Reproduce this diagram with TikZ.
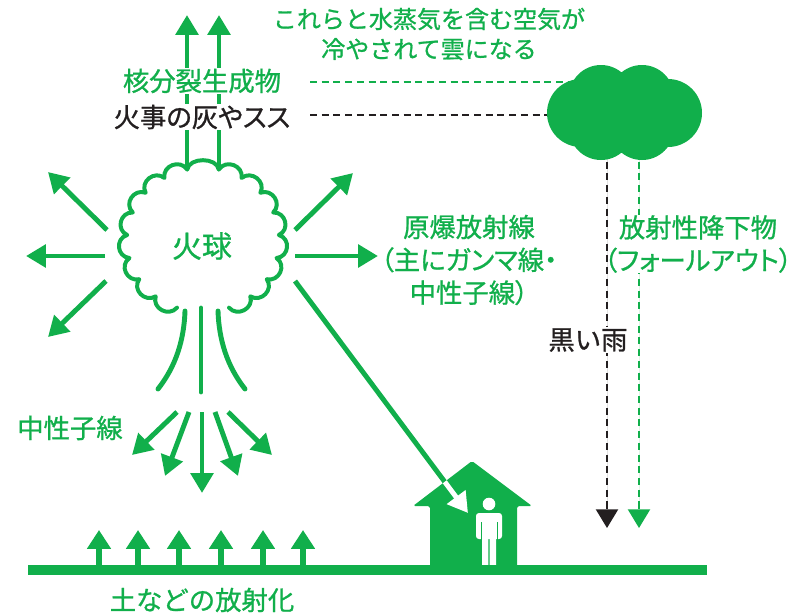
\documentclass[tikz,border=0pt]{standalone}
\usepackage{fontspec}
\newfontfamily\jp[FakeBold=0.9]{Noto Sans CJK JP}
\newfontfamily\jpp[FakeBold=0.9,RawFeature=+palt]{Noto Sans CJK JP}
\usetikzlibrary{arrows.meta,positioning}
\definecolor{BombGreen}{HTML}{11AF4B}
\definecolor{SootBlack}{HTML}{231F20}

\begin{document}
\begin{tikzpicture}[
  x=0.3mm, y=-0.3mm,
  word/.style={font=\jp\fontsize{22.5}{28}\selectfont,text=BombGreen,align=center,
               fill=white,inner sep=1pt},
  tightword/.style={word,font=\jpp\fontsize{22.5}{28}\selectfont},
  inkword/.style={word,text=SootBlack},
  ray/.style={draw=BombGreen,line width=4.2pt,-{Triangle[length=17pt,width=19pt]}},
  lift/.style={draw=BombGreen,line width=5pt,-{Triangle[length=16pt,width=19.5pt]}},
  stream/.style={draw=BombGreen,line width=4.2pt,line cap=round},
  fireedge/.style={draw=BombGreen,line width=3.4pt,line cap=round,line join=round},
  haze/.style={line width=1.3pt,dash pattern=on 6pt off 4pt},
  rain/.style={haze,-{Triangle[length=16pt,width=19pt]}}
]
  \useasboundingbox (0,0) rectangle (803,613);

  % fireball outline, open at the bottom
  \draw[fireedge] ({203+76*cos(110)},{240+72*sin(110)})
    foreach \a/\b in {110/128.5,128.5/147,147/165.5,165.5/184,184/202.5,202.5/221,
                      221/239.5,239.5/258,258/282,282/300.5,300.5/319,319/337.5,
                      337.5/356,356/374.5,374.5/393,393/411.5,411.5/430}
    { .. controls ({203+88*cos(\a+3)},{240+84*sin(\a+3)})
         and ({203+88*cos(\b-3)},{240+84*sin(\b-3)}) .. ({203+76*cos(\b)},{240+72*sin(\b)}) };
  \node[word,fill=none,font=\jp\fontsize{25.5}{28}\selectfont] (fireball) at (202,246) {火球};

  % rising column
  \coordinate (colL) at (187,170);
  \coordinate (colR) at (219,170);
  \coordinate (colLtop) at (187,15);
  \coordinate (colRtop) at (219,15);
  \draw[ray] (colL) -- (colLtop);
  \draw[ray] (colR) -- (colRtop);

  % rays out of the fireball
  \coordinate (ulA) at (107,230);  \coordinate (ulB) at (48,172);
  \coordinate (lA)  at (105,256);  \coordinate (lB)  at (26,256);
  \coordinate (llA) at (106,281);  \coordinate (llB) at (48,337);
  \coordinate (urA) at (295,230);  \coordinate (urB) at (353,173);
  \coordinate (rA)  at (295,256);  \coordinate (rB)  at (378,256);
  \coordinate (hitA) at (295,281); \coordinate (hitB) at (468,513);
  \draw[ray] (ulA) -- (ulB);
  \draw[ray] (lA) -- (lB);
  \draw[ray] (llA) -- (llB);
  \draw[ray] (urA) -- (urB);
  \draw[ray] (rA) -- (rB);
  \draw[ray] (hitA) -- (hitB);

  % neutron streams below the fireball
  \draw[stream] (185,311) .. controls (184,340) and (176,366) .. (158,389);
  \draw[stream] (201,308) -- (201,392);
  \draw[stream] (218,311) .. controls (219,340) and (227,366) .. (245,389);
  \foreach \sx/\tx/\ty [count=\i] in {177/132/455,189/165/476,202/202/493,215/238/476,228/272/455}{
    \coordinate (nA\i) at (\sx,412);
    \coordinate (nB\i) at (\tx,\ty);
    \draw[ray] (nA\i) -- (nB\i);
  }

  % house with a person inside
  \fill[BombGreen,rounded corners=1.5pt] (430,570) -- (430,506) -- (413,506) -- (472,461)
    -- (532,506) -- (517,506) -- (517,570) -- cycle;
  \begin{scope}
    \clip (430,570) -- (430,506) -- (413,506) -- (472,461) -- (532,506) -- (517,506)
      -- (517,570) -- cycle;
    \draw[ray,draw=white,fill=white] (hitA) -- (hitB);
  \end{scope}
  \fill[white] (489,504) circle (6.3);
  \fill[white,rounded corners=2.5pt] (476,513) rectangle (502,539);
  \fill[white] (482,535) rectangle (488.4,568) (489.6,535) rectangle (496,568);
  \draw[BombGreen,line width=0.7pt] (481,522) -- (481,540) (497,522) -- (497,540);

  % ground and induced activity
  \coordinate (groundL) at (28,570);
  \coordinate (groundR) at (707,570);
  \draw[BombGreen,line width=8.5pt] (groundL) -- (groundR);
  \foreach \gx [count=\i] in {99,138,179,221,263,303}{
    \coordinate (soil\i) at (\gx,566);
    \coordinate (soilTop\i) at (\gx,530);
    \draw[lift] (soil\i) -- (soilTop\i);
  }

  % fallout from the cloud
  \coordinate (cloud) at (621,113);
  \coordinate (dustEnd) at (600,82);
  \coordinate (sootEnd) at (592,115);
  \coordinate (fissionStart) at (310,82);
  \coordinate (ashStart) at (310,115);
  \draw[haze,draw=BombGreen] (fissionStart) -- (dustEnd);
  \draw[haze,draw=SootBlack] (ashStart) -- (sootEnd);
  \coordinate (blackTop) at (607,150);  \coordinate (blackEnd) at (607,528);
  \coordinate (greenTop) at (639,150);  \coordinate (greenEnd) at (639,528);
  \draw[rain,draw=BombGreen,fill=BombGreen] (greenTop) -- (greenEnd);
  \node[tightword,inner sep=0.5pt] (fallout) at (698,244) {放射性降下物\\（フォールアウト）};
  \draw[rain,draw=SootBlack,fill=SootBlack] (blackTop) -- (blackEnd);
  \fill[BombGreen] (601,97) circle (32) (642,97) circle (32) (581,113) circle (34)
    (668,113) circle (34) (601,128) circle (32) (642,128) circle (32);

  % labels
  \node[word,fill=none,font=\jp\fontsize{20.5}{25.6}\selectfont] (cools) at (429,34)
    {これらと水蒸気を含む空気が\\冷やされて雲になる};
  \node[word] (fission) at (202,81) {核分裂生成物};
  \node[inkword,font=\jpp\fontsize{22.5}{28}\selectfont] (ash) at (202,117) {火事の灰やスス};
  \node[tightword,fill=none] (bombray) at (469,260) {原爆放射線\\（主にガンマ線・\\中性子線）};
  \node[inkword] (blackrain) at (588,340) {黒い雨};
  \node[word,fill=none] (neutron) at (70,428) {中性子線};
  \node[word,fill=none] (soil) at (202,600) {土などの放射化};
\end{tikzpicture}
\end{document}
